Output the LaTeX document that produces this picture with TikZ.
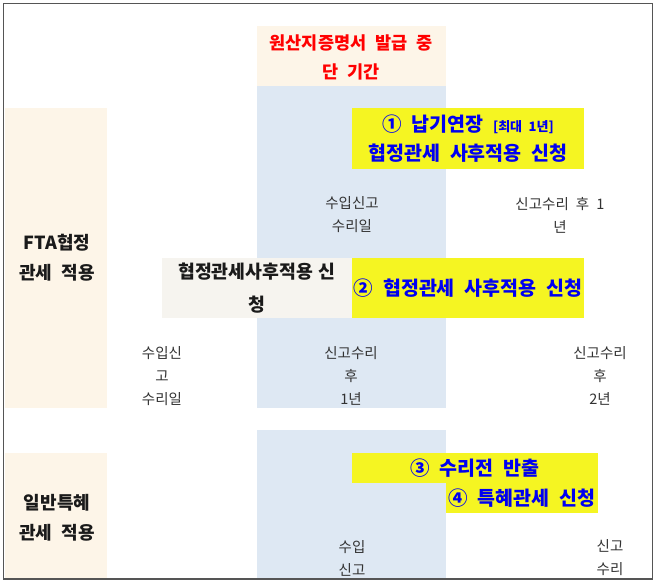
\documentclass[tikz,border=0pt]{standalone}
\usepackage{fontspec}
\setmainfont{Noto Sans CJK KR}[WordSpace=2.2]
\definecolor{orng}{HTML}{FDF5E8}
\definecolor{blu}{HTML}{DEE8F3}
\definecolor{ylw}{HTML}{F5F522}
\definecolor{crm}{HTML}{F6F4EF}
\definecolor{bordr}{HTML}{555555}
\definecolor{txtg}{HTML}{333333}
\definecolor{txtb}{HTML}{1A1A1A}
\definecolor{bluetxt}{HTML}{0000F0}
\begin{document}
\begin{tikzpicture}[x=1pt,y=-1pt,
  smalltxt/.style={inner sep=0pt, align=center, text=txtg, font=\fontsize{14.5}{23}\selectfont},
  labeltxt/.style={inner sep=0pt, align=center, text=txtb, font=\bfseries\fontsize{18}{30}\selectfont},
  ybox/.style={fill=ylw, inner sep=0pt, align=center, text=bluetxt, font=\bfseries\fontsize{19.5}{29}\selectfont},
  cbox/.style={fill=crm, inner sep=0pt, align=center, text=txtb, font=\bfseries\fontsize{18.3}{33}\selectfont},
  redtxt/.style={inner sep=0pt, align=center, text=red, font=\bfseries\fontsize{17.5}{29}\selectfont}]
\useasboundingbox (0,0) rectangle (658,581);
\fill[white] (0,0) rectangle (658,581);
% background columns
\fill[orng] (257,26) rectangle (446,86);
\fill[blu] (257,86) rectangle (446,408);
\fill[blu] (257,430) rectangle (446,579);
\fill[orng] (5,108) rectangle (107,408);
\fill[orng] (5,453) rectangle (107,579);
% header
\node[redtxt] (hdr) at (351,57.5) {원산지증명서 발급 중\\단 기간};
% row labels
\node[labeltxt] (fta) at (57,258) {FTA협정\\관세 적용};
\node[labeltxt] (gen) at (57,517.5) {일반특혜\\관세 적용};
% yellow boxes
\node[ybox, minimum width=232pt, minimum height=61pt] (y1) at (468,138.5)
  {① 납기연장 {\fontsize{13}{13}\selectfont [최대 1년]}\\협정관세 사후적용 신청};
\node[cbox, minimum width=190pt, minimum height=60pt, text width=186pt] (c2) at (257,288)
  {협정관세사후적용 신\\청};
\node[ybox, minimum width=232pt, minimum height=60pt] (y2) at (468,288)
  {② 협정관세 사후적용 신청};
\node[ybox, minimum width=246pt, minimum height=30pt] (y3) at (475,468)
  {③ 수리전 반출};
\node[ybox, minimum width=152pt, minimum height=30pt] (y4) at (522,498)
  {④ 특혜관세 신청};
% small texts
\node[smalltxt] (t1) at (352,215) {수입신고\\수리일};
\node[smalltxt] (t2) at (560,215) {신고수리 후 1\\년};
\node[smalltxt] (t3) at (162,376) {수입신\\고\\수리일};
\node[smalltxt] (t4) at (351,376) {신고수리\\후\\1년};
\node[smalltxt] (t5) at (600,376) {신고수리\\후\\2년};
\node[smalltxt] (t6) at (352,558) {수입\\신고};
\node[smalltxt] (t7) at (610,558) {신고\\수리};
% outer border
\draw[bordr, line width=1.5pt] (3.5,3.5) rectangle (652.5,579);
\end{tikzpicture}
\end{document}
